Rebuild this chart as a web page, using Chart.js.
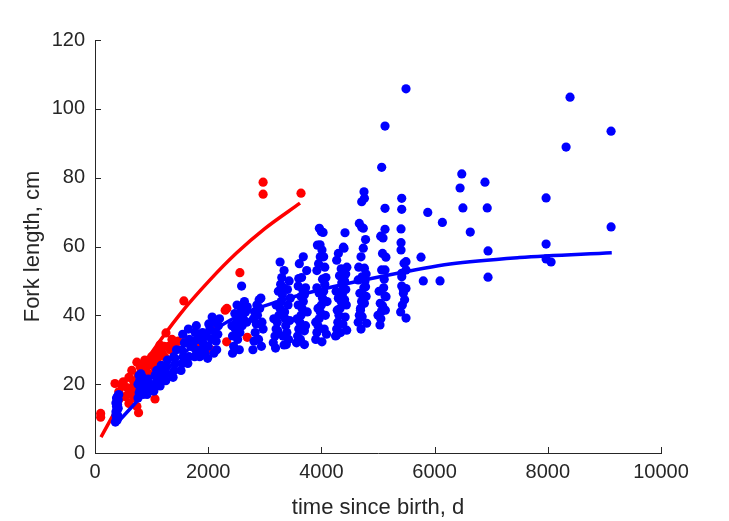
<!DOCTYPE html>
<html>
<head>
<meta charset="utf-8">
<script src="https://cdn.jsdelivr.net/npm/chart.js@4.4.0/dist/chart.umd.min.js"></script>
<style>
html,body{margin:0;padding:0;background:#fff;}
canvas{display:block;}
</style>
</head>
<body>
<canvas id="c" width="729" height="521"></canvas>
<script>
// ---- axis ticks ----
const xTicks = [0, 2000, 4000, 6000, 8000, 10000];
const yTicks = [0, 20, 40, 60, 80, 100, 120];

// ---- observations: [time since birth (d), fork length (cm)] ----
const redFish = [
  [100,11.5],[100,10.4],[353,20.2],[500,20.7],[420,17.8],[530,16.4],[600,14.4],[740,13.5],[770,11.7],
  [480,19.5],[740,18.3],[640,18],[680,21],[560,19],[600,22],[650,24],[700,16],[760,22.5],[700,19],[620,17],
  [740,26.4],[848,25.3],[972,26.4],[1060,24.7],[901,24],[800,25],[880,27],[1000,27.2],[1020,25.5],
  [820,24.5],[930,25.5],[1000,28],[1080,27],[1120,25.5],[1190,29],[1230,28],[1300,31],[1360,33],
  [1100,29.5],[950,23],[870,22],
  [1130,28],[1148,31.4],[1220,31],[1254,34.9],[1330,30],[1414,31.4],[1470,32.5],[1608,32.8],
  [1570,44.2],[1700,32],[1820,31],[1961,30.5],[2050,30],[2150,37.2],[2330,42],[2300,41.5],
  [2326,32.3],[2690,33.6],[2560,52.4],[1060,15.7],
  [2970,78.7],[2970,75.2],[3640,75.5]
];

const blueFish = [
  // ~1 yr
  [360,9],[380,10],[400,11],[370,12],[390,12.5],[410,13],[380,13.5],[400,14],[370,14.5],[390,15],
  [410,15.5],[380,16],[400,16.5],[420,17],[370,11],[390,9.5],
  // ~2 yr
  [760,16],[780,17.5],[800,18.5],[820,19],[760,20],[790,21],[840,22],[810,23],[850,17],[830,20.5],
  [780,22.5],[860,19.5],
  // ~3 yr
  [920,17],[950,18.5],[980,20],[940,21.5],
  [1040,18],[1070,19.5],[1100,21],[1060,22.5],[1090,24],
  [1150,19.5],[1180,21],[1160,22.5],[1190,24],[1170,25.5],
  [1250,21],[1270,23],[1260,25],[1280,27],
  // ~4 yr
  [1380,22],[1400,24],[1420,26],[1390,28],[1440,30],
  [1520,24],[1540,26],[1560,28],[1530,30],[1580,32],[1550,34.5],
  [1640,26],[1660,28],[1690,31],[1670,33],[1650,36],
  [1760,28],[1780,30],[1800,33],[1770,35],[1790,37],[1720,31],
  // ~5-6 yr
  [1850,28],[1880,30],[1910,32],[1940,29],[1970,34],[2000,31],[2030,36],[2060,33],[2090,38],[2120,35],
  [2150,30],[2180,37],[2200,39],[1900,35],[1990,27.5],[2070,39.5],[2140,32.5],[1860,33],[2010,37.5],
  [2100,29],[2170,34.5],
  [2430,29],[2430,34],[2450,31],[2480,36],[2500,38],[2520,33],[2540,40],[2560,35],[2580,42],
  [2600,37],[2620,39],[2640,44],[2660,41],[2680,38],[2590,48.5],[2420,37],[2470,40.5],[2550,30],
  [2690,42.5],[2510,43],
  // ~8 yr
  [2790,30],[2810,32.5],[2830,35],[2850,37.5],[2870,40],[2890,33],[2910,42],[2930,45],[2950,38],
  [2970,36],[2800,39],[2860,43],[2940,31],[2900,44.5],[2820,41],
  // ~9 yr
  [3150,32],[3180,34],[3200,36],[3220,38],[3250,40],[3270,42],[3290,44],[3310,46],[3330,48],[3350,41],
  [3370,37],[3390,35],[3410,43],[3430,50],[3450,45],[3270,55.5],[3300,51],[3340,53],[3380,31.5],
  [3200,43],[3240,47],[3160,39],[3420,33],[3360,39],[3440,38.5],[3320,34],[3190,30.5],[3280,49],
  [3400,47.5],[3230,35.5],[3340,31.4],
  // ~10 yr
  [3560,32],[3580,34],[3600,36],[3620,38],[3640,40],[3660,42],[3680,44],[3700,46],[3720,48],
  [3600,50.7],[3650,51],[3740,53],[3610,55],[3680,57],[3630,33],[3700,35.5],[3720,37],[3570,39],
  [3750,41],[3590,43],[3640,45.5],[3670,47.5],[3700,31.5],[3660,36.5],[3590,48.5],
  // ~11 yr
  [3900,33],[3920,35],[3940,37],[3960,39],[3980,41],[4000,43],[4020,45],[4040,47],[4060,49],[4080,51],
  [3920,53],[3950,55],[3980,57],[4010,59],[3930,60.4],[3976,60.5],[4000,64.3],[3964,65.3],[4030,64.1],
  [3900,38],[3940,42],[4050,36],[4070,40],[4010,32.3],[4100,44],[3960,46.5],[4020,50.5],[4090,34.5],
  [3920,48],[4060,54],[4040,57],
  // ~12 yr
  [4250,34],[4270,36],[4290,38],[4310,40],[4330,42],[4350,44],[4370,46],[4390,48],[4410,50],[4430,52],
  [4450,54],[4270,56],[4300,58],[4388,59.8],[4417,64],[4400,59.5],[4340,35],[4380,37.5],[4420,39.5],
  [4447,35.7],[4271,34.3],[4300,45],[4360,49.5],[4440,43],[4320,51.5],[4280,41.5],[4410,44.5],
  [4260,47],[4350,53.5],[4430,47.5],
  // ~13 yr
  [4650,38],[4670,40],[4690,42],[4710,44],[4730,46],[4750,48],[4770,50],[4790,52],[4660,54],[4700,57],
  [4740,59.5],[4780,62],[4670,66.7],[4712,65.6],[4740,65.3],[4712,73],[4753,75.9],[4760,74],[4800,37.7],
  [4720,39.6],[4690,41.5],[4760,43.5],[4680,46.4],[4780,48.3],[4650,50.3],[4720,51.2],[4760,53.7],
  [4700,36],[4790,45.5],
  // ~14 yr
  [5035,37.2],[5050,39],[5060,41.1],[5080,42.8],[5040,43.5],[5124,45.6],[5142,45.4],[5100,48],
  [5065,53.2],[5124,53.2],[5048,63],[5124,65],[5124,71.1],[5065,83],[5124,95],[5089,62.5],[5140,56.9],
  [5000,40],[5110,50.5],[5080,58],[5020,47],[5130,41.5],
  // ~15 yr
  [5419,74],[5419,70.8],[5407,65.1],[5407,61.1],[5407,59],[5495,55.6],[5495,53.2],[5419,52.2],
  [5420,51.2],[5448,47.4],[5495,47.8],[5448,46.4],[5419,48.5],[5495,39.2],[5495,105.8],[5460,55.1],
  [5430,43],[5470,44.5],[5400,41],
  // older, sparse
  [5760,56.9],[5800,50],[5879,69.9],[6096,50],[6137,67],[6480,81.1],[6450,77],[6500,71.2],[6630,64.2],
  [6890,78.7],[6930,71.2],[6944,58.7],[6944,51.1],[7970,74.1],[7970,60.7],[7970,56.4],[8058,55.5],
  [8323,88.9],[8393,103.4],[9118,93.5],[9118,65.7]
];

// ---- fitted growth curves ----
const redCurveT = [106, 500, 1000, 1500, 2032, 2500, 3000, 3622];
const redCurveL = [4.6, 16.2, 29.1, 40.3, 50.3, 58.1, 65.2, 72.6];
const blueCurveT = [383, 855, 1500, 2000, 2503, 3269, 4000, 5035, 6272, 7500, 9130];
const blueCurveL = [8.6, 17, 28, 34.5, 39.6, 44.2, 47.5, 51.2, 54.9, 56.8, 58.2];

const toXY = arr => arr.map(p => ({x: p[0], y: p[1]}));
const zipXY = (t, l) => t.map((v, i) => ({x: v, y: l[i]}));

const TXT = '#262626';
const FONT = '"Liberation Sans", Arial, Helvetica, sans-serif';

const inwardTicks = {
  id: 'inwardTicks',
  afterDraw(chart) {
    const ctx = chart.ctx, xs = chart.scales.x, ys = chart.scales.y;
    const area = chart.chartArea;
    ctx.save();
    ctx.strokeStyle = TXT;
    ctx.lineWidth = 1;
    ctx.beginPath();
    xTicks.forEach(v => {
      const px = Math.round(xs.getPixelForValue(v)) + 0.5;
      ctx.moveTo(px, area.bottom); ctx.lineTo(px, area.bottom - 6);
    });
    yTicks.forEach(v => {
      const py = Math.round(ys.getPixelForValue(v)) + 0.5;
      ctx.moveTo(area.left, py); ctx.lineTo(area.left + 6, py);
    });
    ctx.stroke();
    ctx.restore();
  }
};

new Chart(document.getElementById('c'), {
  type: 'scatter',
  data: {
    datasets: [
      { type: 'line', data: zipXY(blueCurveT, blueCurveL), borderColor: '#0000ff', borderWidth: 3.5,
        pointRadius: 0, fill: false, cubicInterpolationMode: 'monotone', order: 0 },
      { data: toXY(blueFish), backgroundColor: '#0000ff', borderWidth: 0, pointRadius: 4.6, order: 1 },
      { type: 'line', data: zipXY(redCurveT, redCurveL), borderColor: '#ff0000', borderWidth: 3.5,
        pointRadius: 0, fill: false, cubicInterpolationMode: 'monotone', order: 2 },
      { data: toXY(redFish), backgroundColor: '#ff0000', borderWidth: 0, pointRadius: 4.6, order: 3 }
    ]
  },
  options: {
    responsive: false,
    animation: false,
    devicePixelRatio: 1,
    layout: { padding: { left: 0, right: 68, top: 40, bottom: 0 } },
    plugins: { legend: { display: false }, tooltip: { enabled: false } },
    scales: {
      x: {
        type: 'linear', min: 0, max: 10000,
        afterFit(s) { s.height = 68; },
        afterBuildTicks(s) { s.ticks = xTicks.map(v => ({value: v})); },
        grid: { display: false, drawTicks: false },
        border: { display: true, color: TXT, width: 1 },
        ticks: { color: TXT, font: { family: FONT, size: 20 }, padding: 7, maxRotation: 0, autoSkip: false,
                 callback: v => String(v) },
        title: { display: true, text: 'time since birth, d', color: TXT,
                 font: { family: FONT, size: 22 }, padding: { top: 0, bottom: 0 } }
      },
      y: {
        type: 'linear', min: 0, max: 120,
        afterFit(s) { s.width = 95; },
        afterBuildTicks(s) { s.ticks = yTicks.map(v => ({value: v})); },
        grid: { display: false, drawTicks: false },
        border: { display: true, color: TXT, width: 1 },
        ticks: { color: TXT, font: { family: FONT, size: 20 }, padding: 10, autoSkip: false,
                 callback: v => String(v) },
        title: { display: true, text: 'Fork length, cm', color: TXT,
                 font: { family: FONT, size: 22 }, padding: { top: 20, bottom: 0 } }
      }
    }
  },
  plugins: [inwardTicks]
});
</script>
</body>
</html>
